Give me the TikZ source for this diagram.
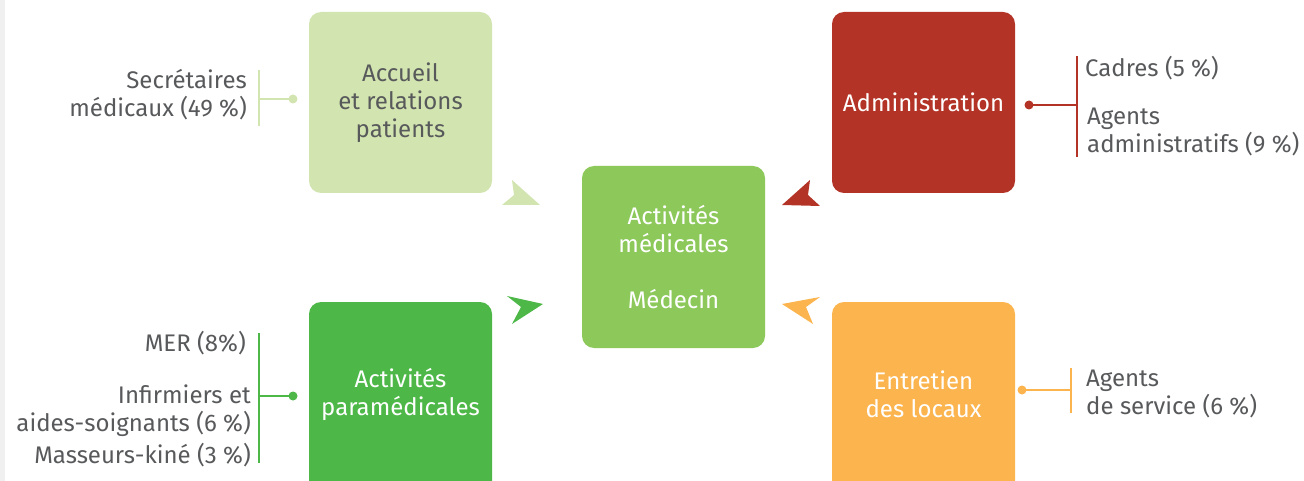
\documentclass[tikz,border=0pt]{standalone}
\usepackage{fontspec}
\setmainfont{Fira Sans}
\definecolor{cAcc}{HTML}{D2E5B0}
\definecolor{cAdm}{HTML}{B33326}
\definecolor{cMed}{HTML}{8CC85A}
\definecolor{cPara}{HTML}{4DB848}
\definecolor{cEnt}{HTML}{FBB44E}
\definecolor{cTxt}{HTML}{58595B}
\begin{document}
\begin{tikzpicture}[x=1pt,y=-1pt,
  box/.style={rounded corners=12pt,minimum width=183pt,text=white,align=center,font=\fontsize{24}{28}\selectfont,inner sep=0pt},
  lbl/.style={text=cTxt,font=\fontsize{24}{28}\selectfont,inner sep=0pt},
  brk/.style={line width=2pt},
  dot/.style={circle,inner sep=0pt,minimum size=9pt}]
\useasboundingbox (0,0) rectangle (1304,481);
\clip (0,0) rectangle (1304,481);
\fill[gray!12] (0,0) rectangle (5,481);
% boxes
\fill[cAcc,rounded corners=12pt] (309,12) rectangle (492,193);
\fill[cAdm,rounded corners=12pt] (832,12) rectangle (1015,193);
\fill[cMed,rounded corners=12pt] (582,166) rectangle (765,348);
\fill[cPara,rounded corners=12pt] (309,302) rectangle (492,500);
\fill[cEnt,rounded corners=12pt] (832,302) rectangle (1015,500);
\node[box,text=cTxt] (acc) at (400.5,103) {Accueil\\et relations\\patients};
\node[box] (adm) at (923.5,102) {Administration};
\node[box] (med) at (673.5,257) {Activités\\médicales\\[28pt]Médecin};
\node[box] (para) at (400.5,394) {Activités\\paramédicales};
\node[box] (ent) at (923.5,394) {Entretien\\des locaux};
% arrowheads
\fill[cAcc] (512,180) -- (540,205) -- (502,205) -- (514,195) -- cycle;
\fill[cPara] (507,296) -- (543,304) -- (512,324) -- (521,307) -- cycle;
\fill[cAdm] (810,180) -- (782,205) -- (820,206) -- (808,195) -- cycle;
\fill[cEnt] (820,297) -- (782,304) -- (813,324) -- (806,307) -- cycle;
% brackets
\node[dot,fill=cAcc] (accdot) at (293,99) {};
\draw[brk,cAcc] (259,70) -- (259,126);
\draw[brk,cAcc] (accdot.center) -- (259,99);
\node[lbl,anchor=east,align=right] (sec) at (247,95) {Secrétaires\\médicaux (49 \%)};

\node[dot,fill=cAdm] (admdot) at (1029,105) {};
\draw[brk,cAdm] (1077,56) -- (1077,157);
\draw[brk,cAdm] (admdot.center) -- (1077,105);
\node[lbl,anchor=west] (cad) at (1085,68) {Cadres (5 \%)};
\node[lbl,anchor=west,align=left] (agad) at (1087,132) {Agents\\administratifs (9 \%)};

\node[dot,fill=cPara] (paradot) at (293,396) {};
\draw[brk,cPara] (259,333) -- (259,463);
\draw[brk,cPara] (paradot.center) -- (259,396);
\node[lbl,anchor=east] (mer) at (246,343) {MER (8\%)};
\node[lbl,anchor=east,align=right] (inf) at (251,411) {Infirmiers et\\aides-soignants (6 \%)};
\node[lbl,anchor=east] (mas) at (251,455) {Masseurs-kiné (3 \%)};

\node[dot,fill=cEnt] (entdot) at (1022,390) {};
\draw[brk,cEnt] (1071,368) -- (1071,413);
\draw[brk,cEnt] (entdot.center) -- (1071,390);
\node[lbl,anchor=west,align=left] (ags) at (1086,394) {Agents\\de service (6 \%)};
\end{tikzpicture}
\end{document}
